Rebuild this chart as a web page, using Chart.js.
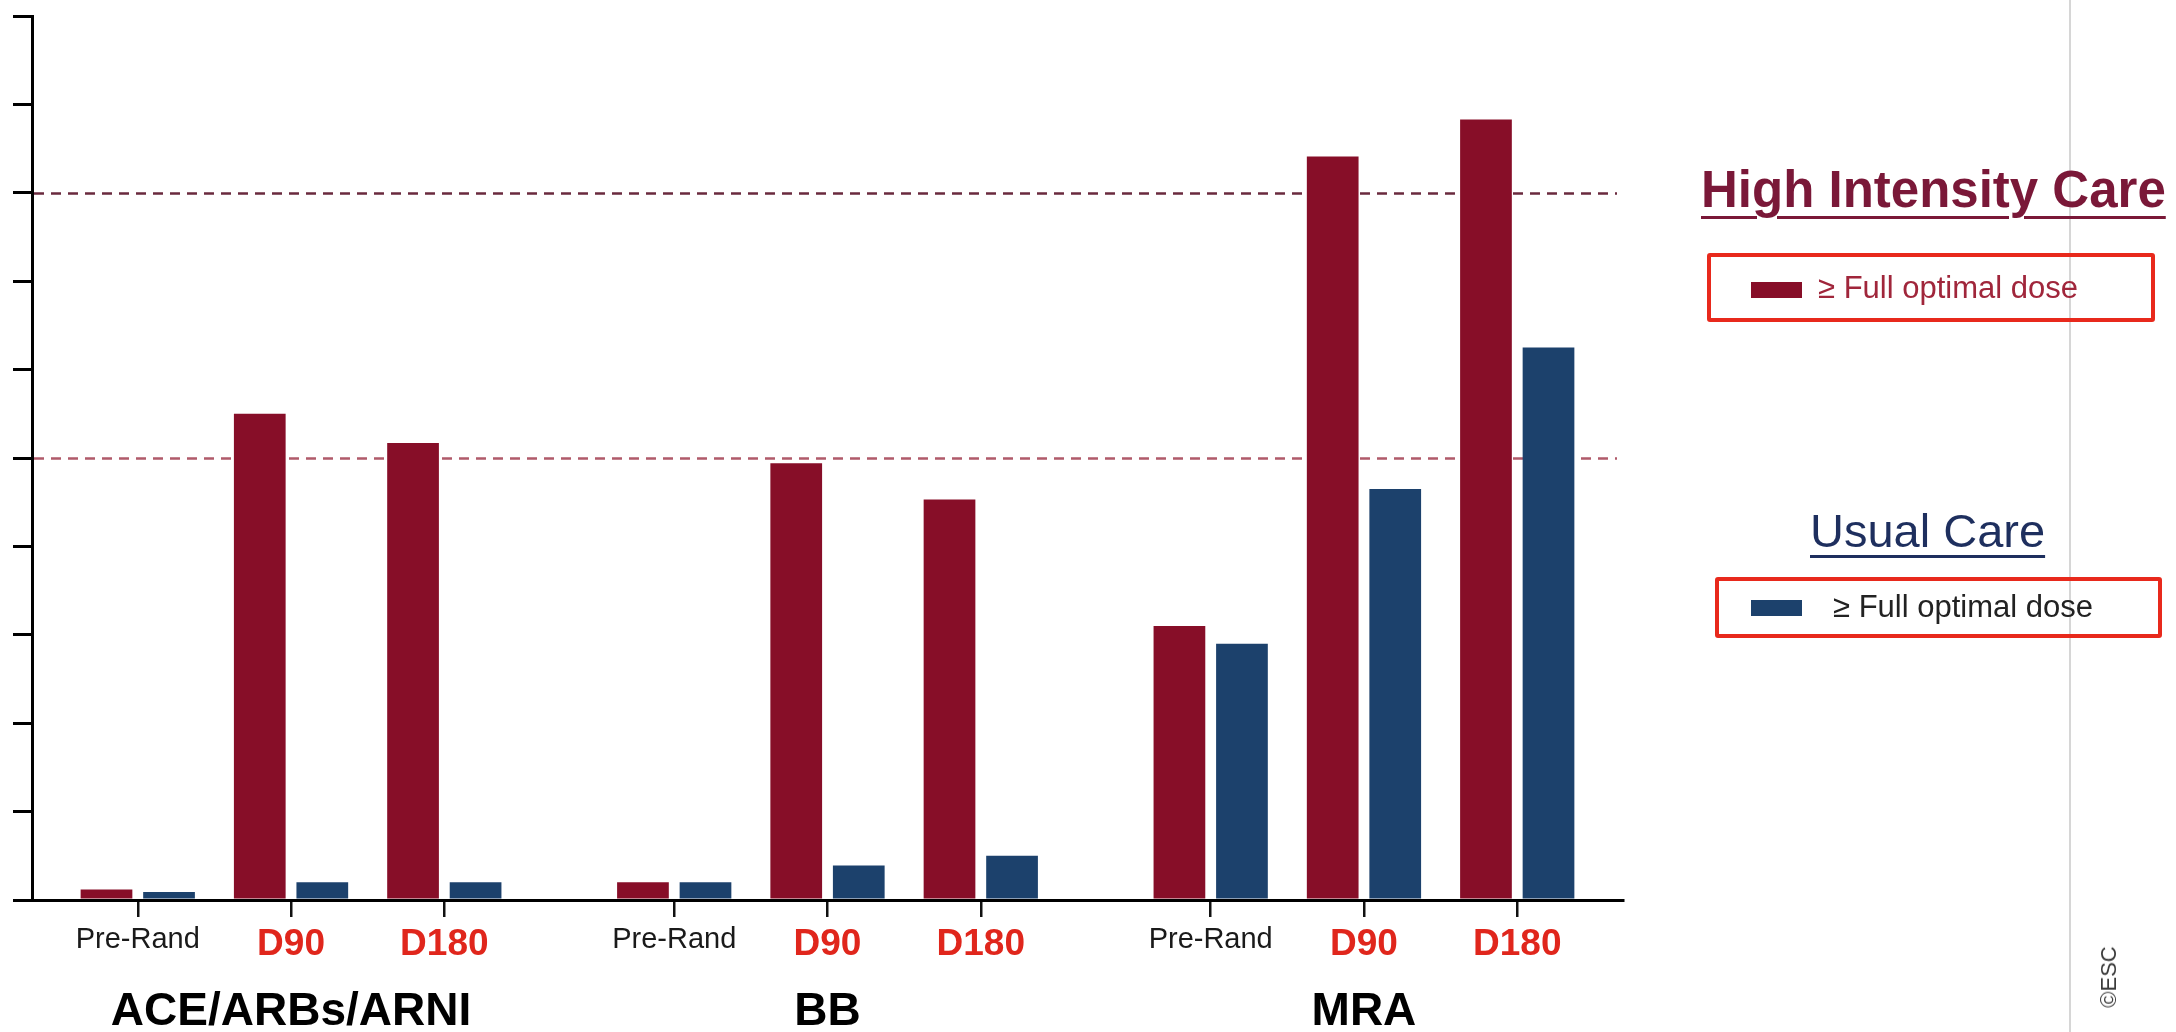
<!DOCTYPE html>
<html>
<head>
<meta charset="utf-8">
<script src="https://cdn.jsdelivr.net/npm/chart.js@4.4.0/dist/chart.umd.min.js"></script>
<style>
    body { margin: 0; background: #fff; font-family: "Liberation Sans", Arial, sans-serif; }
    #wrap { position: relative; width: 2176px; height: 1032px; overflow: hidden; background: #fff; }
    #barChart { position: absolute; left: 0; top: 0; }
    .legendTitle { position: absolute; line-height: 1; white-space: nowrap; text-decoration: underline; text-decoration-thickness: 3px; }
    #hicTitle { left: 1701px; top: 164px; font-size: 51px; font-weight: bold; color: #7a1838; text-underline-offset: 9px; }
    #ucTitle { left: 1810px; top: 507px; font-size: 47px; color: #1e2f5e; text-underline-offset: 8px; }
    .legendBox { position: absolute; box-sizing: border-box; border: 4px solid #e8291c; border-radius: 3px; }
    #hicBox { left: 1707px; top: 253px; width: 448px; height: 69px; }
    #ucBox { left: 1715px; top: 577px; width: 447px; height: 61px; }
    .swatch { position: absolute; width: 51px; height: 16px; }
    .legendText { position: absolute; font-size: 31px; line-height: 1; white-space: nowrap; }
    #divider { position: absolute; left: 2069px; top: 0; width: 2px; height: 1032px; background: #d6d6d6; }
    #esc { position: absolute; left: 2109px; top: 977px; font-size: 22px; color: #3a3a3a; white-space: nowrap; line-height: 1;
           transform: translate(-50%, -50%) rotate(-90deg); }
</style>
</head>
<body>
<div id="wrap">
    <canvas id="barChart" width="2176" height="1032"></canvas>
    <div id="divider"></div>

    <div id="hicTitle" class="legendTitle">High Intensity Care</div>
    <div id="hicBox" class="legendBox"></div>
    <div class="swatch" id="hicSwatch" style="left:1751px;top:282px;"></div>
    <div class="legendText" id="hicText" style="left:1818px;top:272px;color:#a0263b;">≥ Full optimal dose</div>

    <div id="ucTitle" class="legendTitle">Usual Care</div>
    <div id="ucBox" class="legendBox"></div>
    <div class="swatch" id="ucSwatch" style="left:1751px;top:600px;"></div>
    <div class="legendText" id="ucText" style="left:1833px;top:591px;color:#222;">≥ Full optimal dose</div>

    <div id="esc">©ESC</div>
</div>

<script>
var groups = ["ACE/ARBs/ARNI", "BB", "MRA"];
var visits = ["Pre-Rand", "D90", "D180"];
var highIntensity = [1.2, 55.0, 51.7, 2.0, 49.4, 45.3, 31.0, 84.1, 88.3];
var usualCare = [0.9, 2.0, 2.0, 2.0, 3.9, 5.0, 29.0, 46.5, 62.5];
var yTicks = [0, 10, 20, 30, 40, 50, 60, 70, 80, 90, 100];
var refLines = [80, 50];

var redColor = "#870e28";
var blueColor = "#1c416c";
var groupGap = 0.5;

document.getElementById("hicSwatch").style.background = redColor;
document.getElementById("ucSwatch").style.background = blueColor;

var positions = [];
var tickLabels = [];
for (var g = 0; g < groups.length; g++) {
    for (var v = 0; v < visits.length; v++) {
        positions.push(g * (visits.length + groupGap) + v);
        tickLabels.push(visits[v]);
    }
}
var groupCenters = groups.map(function (name, g) {
    return g * (visits.length + groupGap) + (visits.length - 1) / 2;
});

function toPoints(values) {
    return values.map(function (val, i) { return { x: positions[i], y: val }; });
}

var xMin = positions[0] - 0.69;
var xMax = positions[positions.length - 1] + 0.69;

// dashed reference lines at 80% and 50%
var refLinePlugin = {
    id: "refLines",
    beforeDatasetsDraw: function (chart) {
        var c = chart.ctx;
        var area = chart.chartArea;
        var yScale = chart.scales.y;
        var colors = ["#6a2a3e", "#b05a6a"];
        c.save();
        c.lineWidth = 2.5;
        c.setLineDash([10, 7]);
        refLines.forEach(function (val, i) {
            var py = Math.round(yScale.getPixelForValue(val)) + 0.5;
            c.strokeStyle = colors[i];
            c.beginPath();
            c.moveTo(area.left + 2, py);
            c.lineTo(area.right - 6, py);
            c.stroke();
        });
        c.restore();
    }
};

// drug class names under each group of bars
var groupLabelPlugin = {
    id: "groupLabels",
    afterDraw: function (chart) {
        var c = chart.ctx;
        var xScale = chart.scales.x;
        c.save();
        c.font = "bold 46px 'Liberation Sans', Arial, sans-serif";
        c.fillStyle = "#000";
        c.textAlign = "center";
        c.textBaseline = "alphabetic";
        groups.forEach(function (name, i) {
            c.fillText(name, xScale.getPixelForValue(groupCenters[i]), chart.chartArea.bottom + 125);
        });
        c.restore();
    }
};

var mainChart = new Chart(document.getElementById("barChart"), {
    type: "bar",
    data: {
        datasets: [
            { label: "High Intensity Care", backgroundColor: redColor, data: toPoints(highIntensity) },
            { label: "Usual Care", backgroundColor: blueColor, data: toPoints(usualCare) }
        ]
    },
    options: {
        responsive: false,
        animation: false,
        categoryPercentage: 0.816,
        barPercentage: 0.827,
        layout: { padding: { left: 0, right: 553, top: 16, bottom: 0 } },
        plugins: { legend: { display: false }, tooltip: { enabled: false } },
        scales: {
            x: {
                type: "linear",
                position: "bottom",
                min: xMin,
                max: xMax,
                offset: false,
                afterBuildTicks: function (scale) {
                    scale.ticks = positions.map(function (p) { return { value: p }; });
                },
                afterFit: function (scale) { scale.height = 132; },
                grid: { display: true, offset: false, drawOnChartArea: false, drawTicks: true, tickLength: 17, lineWidth: 2.5, color: "#111" },
                border: { display: true, width: 3, color: "#000" },
                ticks: {
                    autoSkip: false,
                    maxRotation: 0,
                    padding: 6,
                    callback: function (value, index) { return tickLabels[index]; },
                    color: function (ctx) { return tickLabels[ctx.index] === "Pre-Rand" ? "#1a1a1a" : "#e0261c"; },
                    font: function (ctx) {
                        return tickLabels[ctx.index] === "Pre-Rand"
                            ? { family: "Liberation Sans, Arial, sans-serif", size: 29, weight: "normal" }
                            : { family: "Liberation Sans, Arial, sans-serif", size: 37, weight: "bold" };
                    }
                }
            },
            y: {
                min: 0,
                max: 100,
                afterBuildTicks: function (scale) {
                    scale.ticks = yTicks.map(function (t) { return { value: t }; });
                },
                afterFit: function (scale) { scale.width = 32; },
                grid: { display: true, drawOnChartArea: false, drawTicks: true, tickLength: 19, lineWidth: 3, color: "#000" },
                border: { display: true, width: 3, color: "#000" },
                ticks: { display: false }
            }
        }
    },
    plugins: [refLinePlugin, groupLabelPlugin]
});
</script>
</body>
</html>
